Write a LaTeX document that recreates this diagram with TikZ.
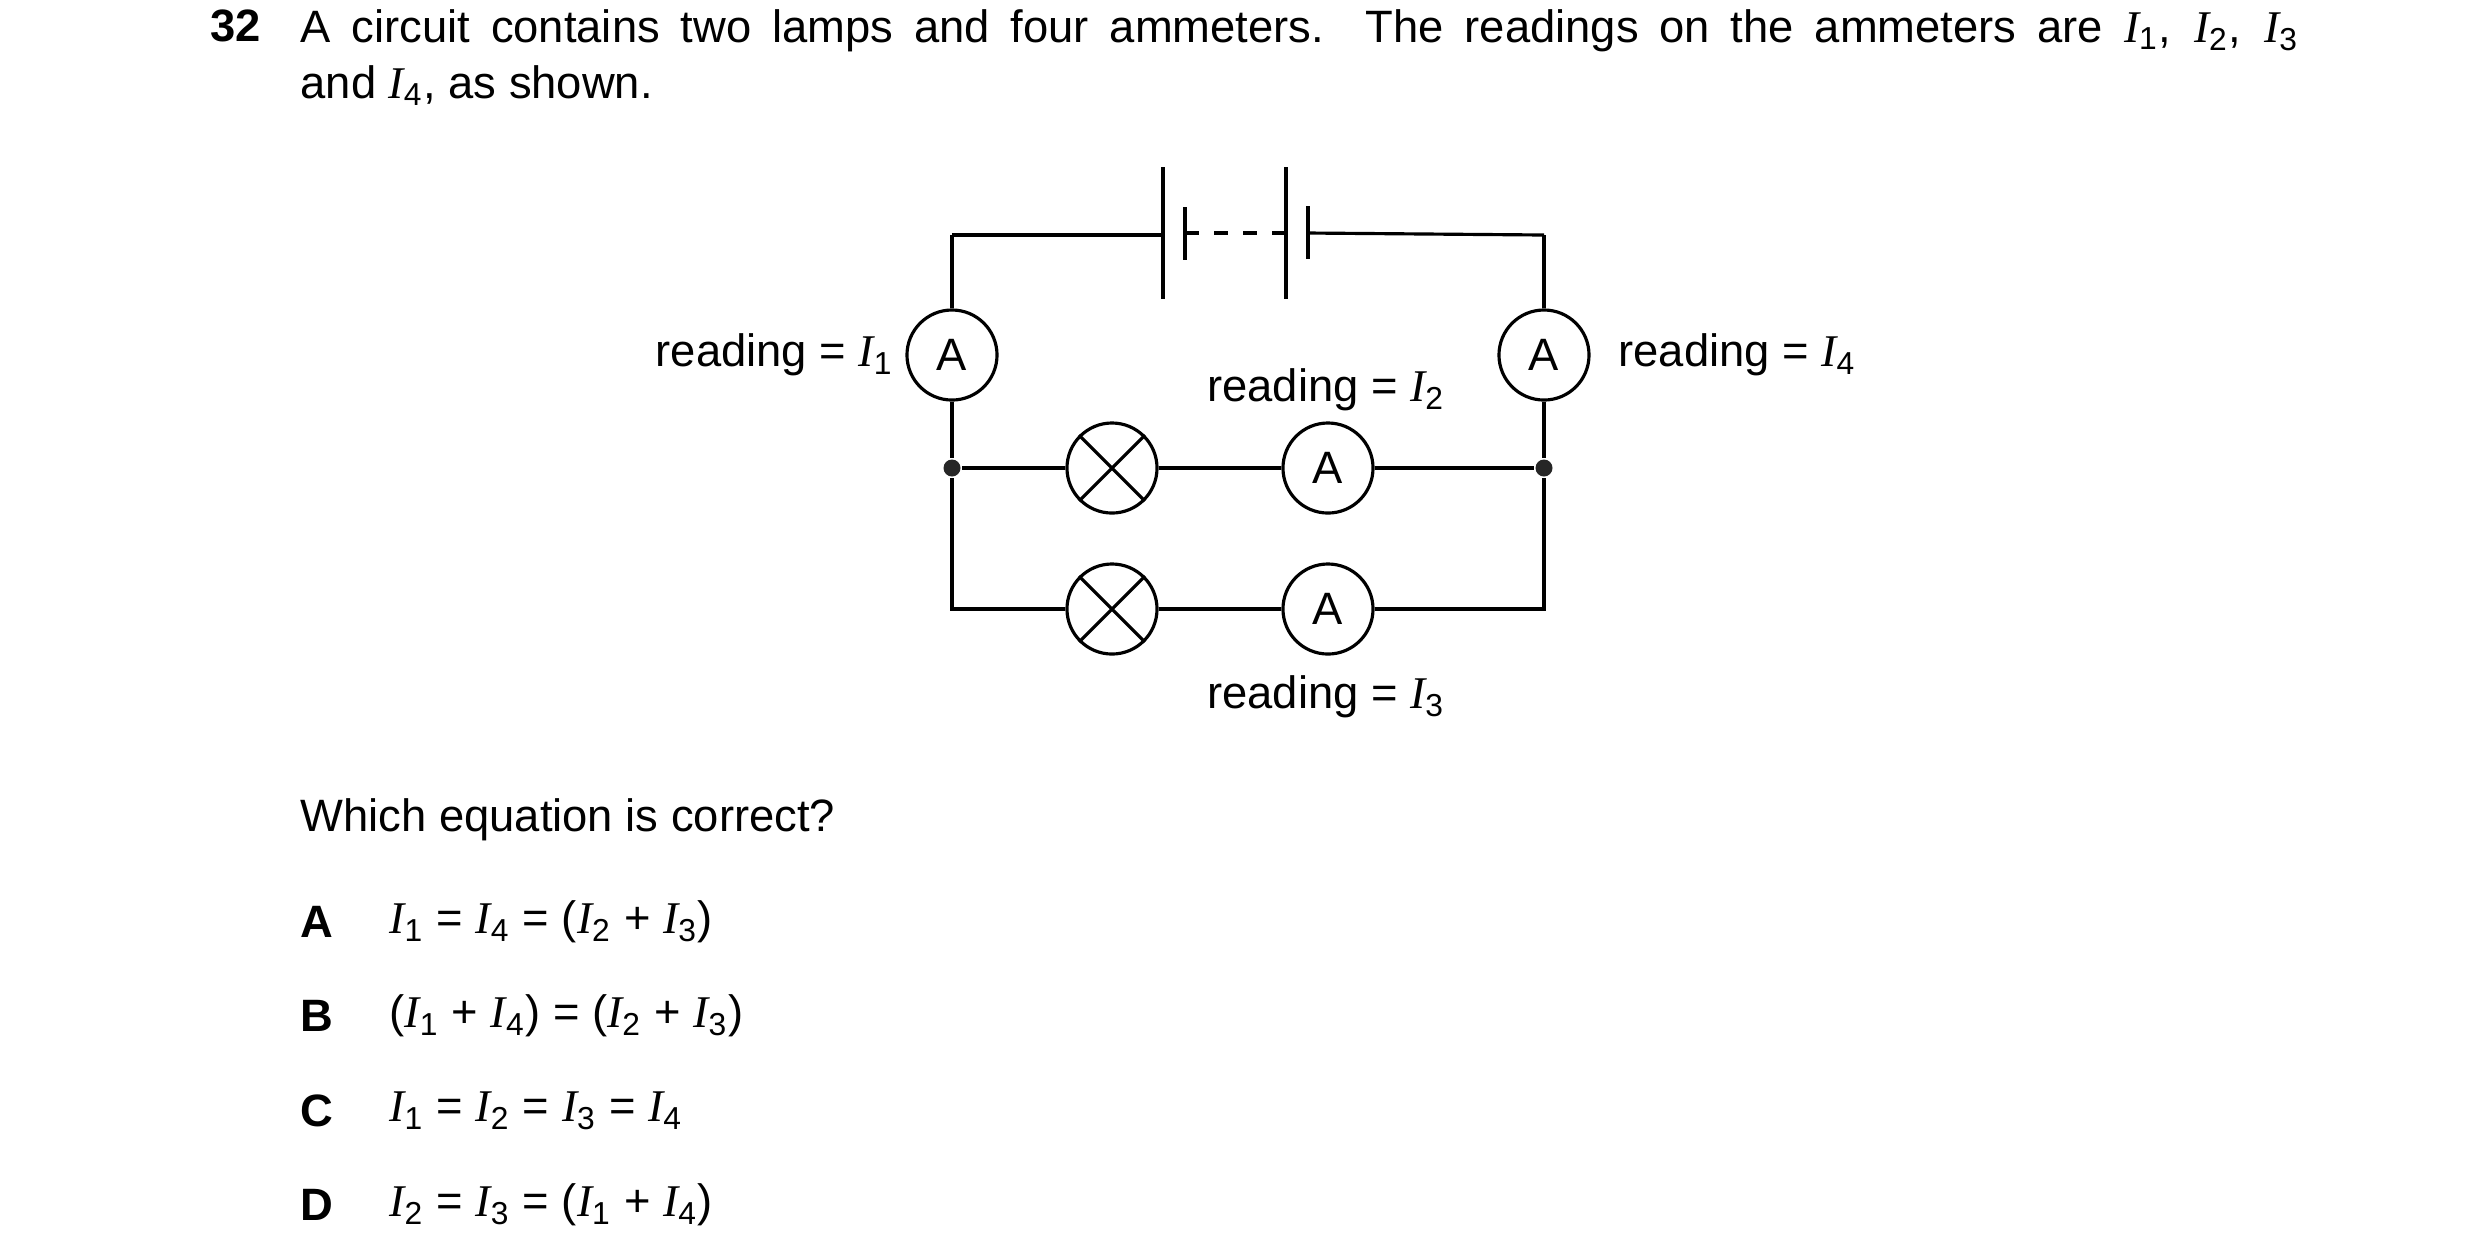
\documentclass[tikz,border=0pt]{standalone}
\usepackage{fontspec}
\setmainfont{Liberation Sans}
\newfontfamily\timesf{Liberation Serif}
\usetikzlibrary{positioning}
\newcommand{\cur}[1]{{\timesf\itshape I}\textsubscript{#1}}
\begin{document}
\fontsize{12.9}{15.9}\selectfont
\begin{tikzpicture}[x=0.01cm,y=-0.01cm,line width=0.9pt,
  meter/.style={circle,draw,minimum size=0.9cm,inner sep=0pt,fill=white},
  lamp/.style={circle,draw,minimum size=0.9cm,inner sep=0pt,fill=white},
  joint/.style={circle,fill=black!85,inner sep=0pt,minimum size=0.17cm},
  lbl/.style={inner sep=0pt}]
  \useasboundingbox (0,0) rectangle (2480,1256);
  % question
  \node[lbl,anchor=north west] (num) at (209,8) {\textbf{32}};
  \node[lbl,anchor=north west,text width=19.97cm,align=justify] (q) at (299,8)
    {A circuit contains two lamps and four ammeters. The readings on the ammeters are \cur{1}, \cur{2}, \cur{3}\linebreak and \cur{4}, as shown.};
  % circuit corners
  \coordinate (tl) at (952,235);
  \coordinate (tr) at (1544,235);
  \coordinate (bl) at (952,609);
  \coordinate (br) at (1544,609);
  \node[joint] (jl) at (952,468) {};
  \node[joint] (jr) at (1544,468) {};
  \node[meter] (a1) at (952,355) {A};
  \node[meter] (a4) at (1544,355) {A};
  \node[lamp] (l1) at (1112,468) {};
  \node[lamp] (l2) at (1112,609) {};
  \node[meter] (a2) at (1328,468) {A};
  \node[meter] (a3) at (1328,609) {A};
  \foreach \l in {l1,l2}
    \draw (\l.north west) -- (\l.south east) (\l.north east) -- (\l.south west);
  % battery
  \coordinate (b1) at (1163,233);
  \coordinate (b2) at (1308,233);
  \draw (tl) -- (b1 |- tl) -- (b1);
  \draw (b1) ++(0,-66) -- ++(0,132);
  \draw (1185,207) -- (1185,260);
  \draw (1185,233) -- (1199,233);
  \draw[dash pattern=on 0.14cm off 0.15cm] (1214,233) -- (1286,233);
  \draw (1286,167) -- (1286,299);
  \draw (b2) ++(0,-27) -- ++(0,53);
  \draw (b2) -- (tr);
  % wires
  \draw (tl) -- (a1) -- (jl) -- (l1) -- (a2) -- (jr) -- (a4) -- (tr);
  \draw (jl) -- (bl) -- (l2) -- (a3) -- (br) -- (jr);
  % readings
  \node[lbl,anchor=east] (r1) at (895,355) {reading = \cur{1}};
  \node[lbl,anchor=west] (r4) at (1617,355) {reading = \cur{4}};
  \node[lbl] (r2) at (1326,390) {reading = \cur{2}};
  \node[lbl] (r3) at (1326,697) {reading = \cur{3}};
  % answers
  \node[lbl,anchor=west] (ask) at (299,820) {Which equation is correct?};
  \foreach \y/\k/\t in {922/A/{\cur{1} = \cur{4} = (\cur{2} + \cur{3})},
                        1016/B/{(\cur{1} + \cur{4}) = (\cur{2} + \cur{3})},
                        1111/C/{\cur{1} = \cur{2} = \cur{3} = \cur{4}},
                        1205/D/{\cur{2} = \cur{3} = (\cur{1} + \cur{4})}} {
    \node[lbl,anchor=west] (k\k) at (299,\y) {\textbf{\k}};
    \node[lbl,anchor=west] (e\k) at (388,\y) {\t};
  }
\end{tikzpicture}
\end{document}
